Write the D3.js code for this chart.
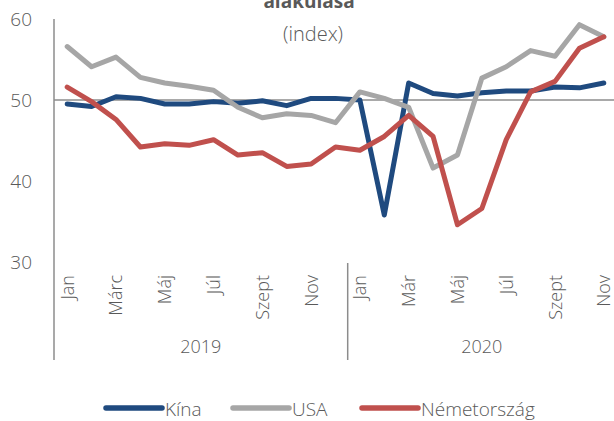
<!DOCTYPE html>
<html>
<head>
<meta charset="utf-8">
<script src="https://cdn.jsdelivr.net/npm/d3@7"></script>
<style>
  body { margin: 0; background: #fff; }
  svg text { font-family: "Open Sans", "Noto Sans", sans-serif; fill: #595959; font-weight: 300; }
</style>
</head>
<body>
<div id="chart"></div>
<script>
// months Jan 2019 .. Nov 2020
var monthLabels = ["Jan", "", "Márc", "", "Máj", "", "Júl", "", "Szept", "", "Nov", "",
                   "Jan", "", "Már", "", "Máj", "", "Júl", "", "Szept", "", "Nov"];
var years = ["2019", "2020"];
var kina = [49.5, 49.2, 50.4, 50.2, 49.5, 49.5, 49.8, 49.6, 49.9, 49.3, 50.2, 50.2,
            50.0, 35.8, 52.1, 50.8, 50.5, 50.9, 51.1, 51.1, 51.6, 51.5, 52.1];
var usa = [56.6, 54.1, 55.3, 52.8, 52.1, 51.7, 51.2, 49.1, 47.8, 48.3, 48.1, 47.2,
           51.0, 50.2, 49.1, 41.6, 43.2, 52.7, 54.1, 56.1, 55.4, 59.3, 57.8];
var nemet = [51.6, 49.8, 47.6, 44.2, 44.6, 44.4, 45.1, 43.2, 43.5, 41.8, 42.1, 44.2,
             43.8, 45.5, 48.1, 45.5, 34.6, 36.6, 45.1, 51.0, 52.3, 56.4, 57.8];
var yTicks = [30, 40, 50, 60];

var series = [
  { name: "Kína", values: kina, color: "#1f4a7f" },
  { name: "USA", values: usa, color: "#a6a6a6" },
  { name: "Németország", values: nemet, color: "#c0504d" }
];

var width = 614, height = 421;
var svg = d3.select("#chart").append("svg")
  .attr("width", width)
  .attr("height", height);

var idx = d3.range(monthLabels.length);
var x = d3.scaleBand().domain(idx).range([55, 616]);
var y = d3.scaleLinear().domain([30, 60]).range([262, 19]);

// title (cut off at top of the picture)
svg.append("text")
  .attr("x", 309).attr("y", 8)
  .attr("text-anchor", "middle")
  .style("font-weight", "bold")
  .style("font-size", "19px")
  .text("alakulása");
svg.append("text")
  .attr("x", 313).attr("y", 41)
  .attr("text-anchor", "middle")
  .style("font-size", "20px")
  .text("(index)");

// y axis
var yAxis = svg.append("g").attr("transform", "translate(55,0)")
  .call(d3.axisLeft(y).tickValues(yTicks).tickSize(0).tickPadding(23));
yAxis.select(".domain").remove();
yAxis.selectAll("text")
  .style("font-size", "19px")
  .style("fill", "#595959");

var axisColor = "#8c8c8c";
svg.append("line")
  .attr("x1", 54).attr("x2", 54)
  .attr("y1", 19).attr("y2", 360)
  .attr("stroke", axisColor).attr("stroke-width", 1.5);

// baseline at 50
svg.append("line")
  .attr("x1", 54).attr("x2", width)
  .attr("y1", y(50)).attr("y2", y(50))
  .attr("stroke", axisColor).attr("stroke-width", 1.5);

// year divider
svg.append("line")
  .attr("x1", x(12)).attr("x2", x(12))
  .attr("y1", 263).attr("y2", 360)
  .attr("stroke", axisColor).attr("stroke-width", 1.5);

// month labels
svg.append("g").selectAll("text")
  .data(idx.filter(function(i) { return monthLabels[i] !== ""; }))
  .enter().append("text")
  .attr("transform", function(i) {
    return "translate(" + (x(i) + x.bandwidth() / 2 + 6.5) + ",275) rotate(-90)";
  })
  .attr("text-anchor", "end")
  .style("font-size", "18px")
  .text(function(i) { return monthLabels[i]; });

// year labels, centred on each year's section
svg.append("g").selectAll("text")
  .data(years)
  .enter().append("text")
  .attr("x", function(d, i) { return i === 0 ? (54 + x(12)) / 2 : (x(12) + 616) / 2; })
  .attr("y", 353)
  .attr("text-anchor", "middle")
  .style("font-size", "18px")
  .text(function(d) { return d; });

// lines
var line = d3.line()
  .x(function(d, i) { return x(i) + x.bandwidth() / 2; })
  .y(function(d) { return y(d); });

svg.append("g").selectAll("path")
  .data(series)
  .enter().append("path")
  .attr("d", function(s) { return line(s.values); })
  .attr("fill", "none")
  .attr("stroke", function(s) { return s.color; })
  .attr("stroke-width", 5)
  .attr("stroke-linejoin", "round")
  .attr("stroke-linecap", "round");

// legend
var legendX = [106, 233, 362];
var legend = svg.append("g").selectAll("g")
  .data(series)
  .enter().append("g")
  .attr("transform", function(d, i) { return "translate(" + legendX[i] + ",408)"; });
legend.append("line")
  .attr("x1", 0).attr("x2", 56)
  .attr("stroke", function(d) { return d.color; })
  .attr("stroke-width", 5.5)
  .attr("stroke-linecap", "round");
legend.append("text")
  .attr("x", 59).attr("y", 8)
  .style("font-size", "19px")
  .text(function(d) { return d.name; });
</script>
</body>
</html>
